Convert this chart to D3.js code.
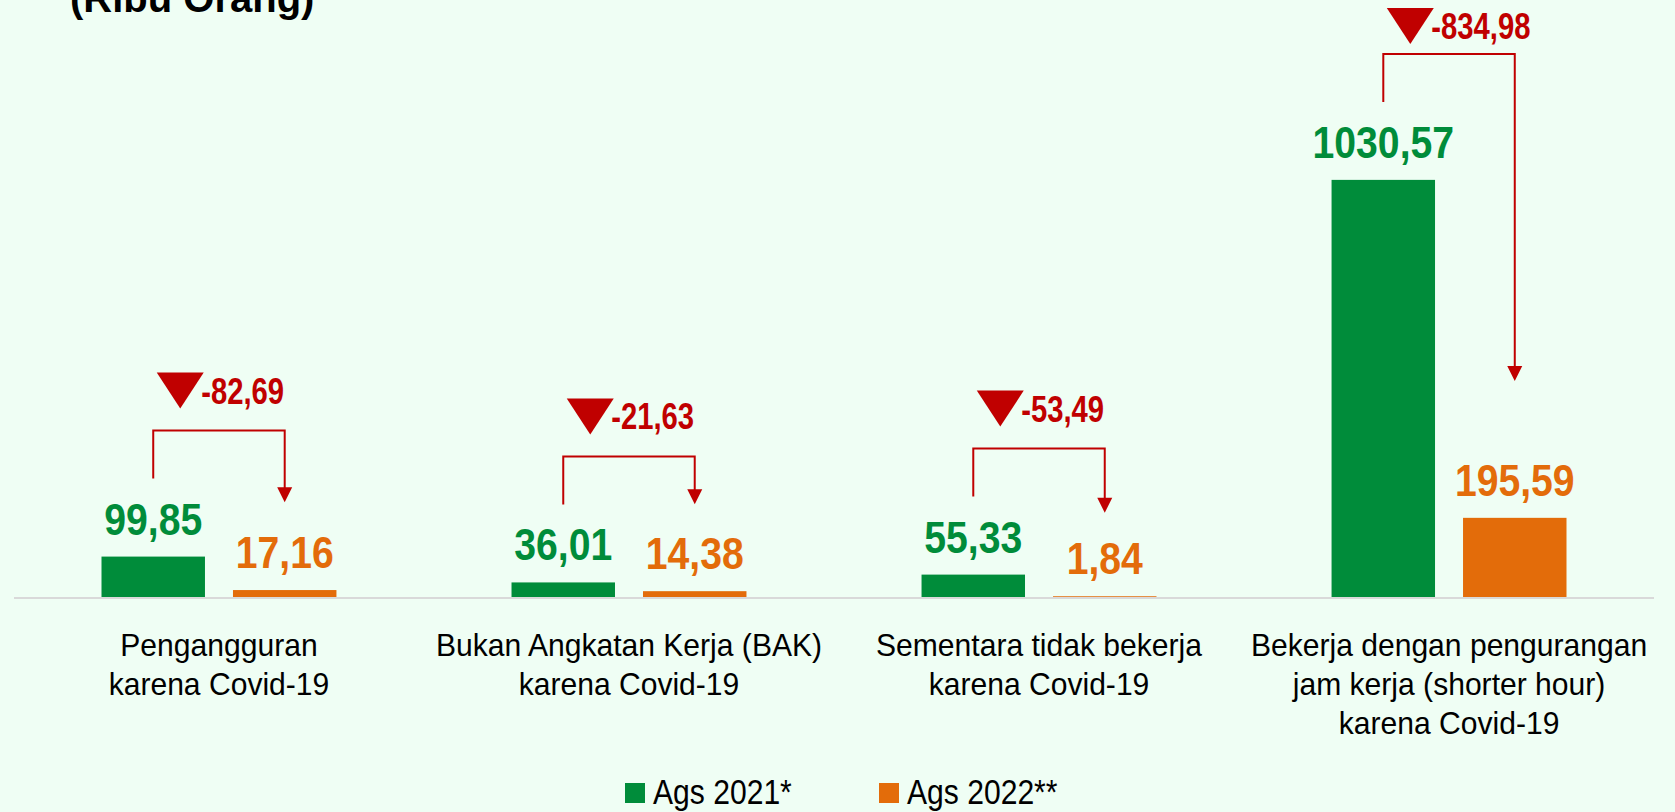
<!DOCTYPE html>
<html>
<head>
<meta charset="utf-8">
<script src="https://cdn.jsdelivr.net/npm/d3@7"></script>
<style>
  html, body { margin: 0; padding: 0; background: #effef4; }
  svg { display: block; font-family: "Liberation Sans", Arial, sans-serif; }
</style>
</head>
<body>
<svg id="chart" width="1675" height="812"></svg>
<script>
// Categories (each label split into its drawn lines)
const categories = ["Pengangguran", "BAK", "Sementara", "Shorter"];
const categoryLines = [
  ["Pengangguran", "karena Covid-19"],
  ["Bukan Angkatan Kerja (BAK)", "karena Covid-19"],
  ["Sementara tidak bekerja", "karena Covid-19"],
  ["Bekerja dengan pengurangan", "jam kerja (shorter hour)", "karena Covid-19"]
];
const seriesNames = ["Ags 2021*", "Ags 2022**"];
const ags2021 = [99.85, 36.01, 55.33, 1030.57];
const ags2022 = [17.16, 14.38, 1.84, 195.59];
const unitLabel = "(Ribu Orang)";

const colors = ["#008c3a", "#e36c0a"];
const red = "#c00000";
const fmt = v => d3.format(".2f")(v).replace(".", ",").replace("\u2212", "-");

const svg = d3.select("#chart");

const x0 = d3.scaleBand().domain(categories).range([14, 1654])
  .paddingInner(0.427).paddingOuter(0.2134);
const x1 = d3.scaleBand().domain([0, 1]).range([0, x0.bandwidth()])
  .paddingInner(0.213).paddingOuter(0);
const y = d3.scaleLinear().domain([0, 1475]).range([597, 0]);
const y0 = y(0);

// unit title
svg.append("text").attr("x", 70).attr("y", 12)
  .attr("font-size", 40).attr("font-weight", "bold").attr("fill", "#000")
  .text(unitLabel);

// baseline
svg.append("line").attr("x1", 14).attr("x2", 1654)
  .attr("y1", y0 + 1).attr("y2", y0 + 1)
  .attr("stroke", "#d9d9d9").attr("stroke-width", 2);

const rows = categories.map((c, i) => ({ c, i, vals: [ags2021[i], ags2022[i]] }));

const groups = svg.selectAll("g.grp").data(rows).join("g")
  .attr("class", "grp")
  .attr("transform", d => `translate(${x0(d.c)},0)`);

// bars
groups.selectAll("rect").data(d => d.vals.map((v, s) => ({ v, s }))).join("rect")
  .attr("x", d => x1(d.s)).attr("width", x1.bandwidth())
  .attr("y", d => y(d.v)).attr("height", d => y0 - y(d.v))
  .attr("fill", d => colors[d.s]);

// value labels
groups.selectAll("text.val").data(d => d.vals.map((v, s) => ({ v, s }))).join("text")
  .attr("class", "val")
  .attr("transform", d => `translate(${x1(d.s) + x1.bandwidth() / 2},${y(d.v) - 22}) scale(0.87,1)`)
  .attr("text-anchor", "middle")
  .attr("font-size", 45).attr("font-weight", "bold")
  .attr("fill", d => colors[d.s])
  .text(d => fmt(d.v));

// change annotations: bracket from the 2021 bar to the 2022 bar
rows.forEach(d => {
  const gx = x0(d.c);
  const xg = gx + x1(0) + x1.bandwidth() / 2;
  const xo = gx + x1(1) + x1.bandwidth() / 2;
  const yg = y(d.vals[0]);
  const yo = y(d.vals[1]);
  const top = yg - 126;
  const legBottom = top + 48;
  const tip = yo - 83 - 0.68 * (y0 - yo);
  const g = svg.append("g").attr("class", "delta");
  g.append("path")
    .attr("d", `M${xg},${legBottom}V${top}H${xo}V${tip - 14}`)
    .attr("fill", "none").attr("stroke", red).attr("stroke-width", 2);
  g.append("path")
    .attr("d", `M${xo - 7.5},${tip - 15}L${xo + 7.5},${tip - 15}L${xo},${tip}Z`)
    .attr("fill", red);
  const triTop = Math.max(top - 58, 8);
  const tx = xg + 27;
  g.append("path")
    .attr("d", `M${tx - 23.5},${triTop}L${tx + 23.5},${triTop}L${tx},${triTop + 36}Z`)
    .attr("fill", red);
  g.append("text")
    .attr("transform", `translate(${tx + 21},${triTop + 31}) scale(0.79,1)`)
    .attr("font-size", 37).attr("font-weight", "bold").attr("fill", red)
    .text(fmt(d.vals[1] - d.vals[0]));
});

// category labels
groups.each(function(d) {
  const t = d3.select(this).append("text")
    .attr("transform", `translate(${x0.bandwidth() / 2},0) scale(0.94,1)`)
    .attr("text-anchor", "middle").attr("font-size", 32).attr("fill", "#000");
  categoryLines[d.i].forEach((line, k) => {
    t.append("tspan").attr("x", 0).attr("y", 656 + k * 39).text(line);
  });
});

// legend
const legendX = [625, 879];
seriesNames.forEach((name, s) => {
  svg.append("rect").attr("x", legendX[s]).attr("y", 783)
    .attr("width", 20).attr("height", 20).attr("fill", colors[s]);
  svg.append("text")
    .attr("transform", `translate(${legendX[s] + 28},804) scale(0.86,1)`)
    .attr("font-size", 35).attr("fill", "#000").text(name);
});
</script>
</body>
</html>
